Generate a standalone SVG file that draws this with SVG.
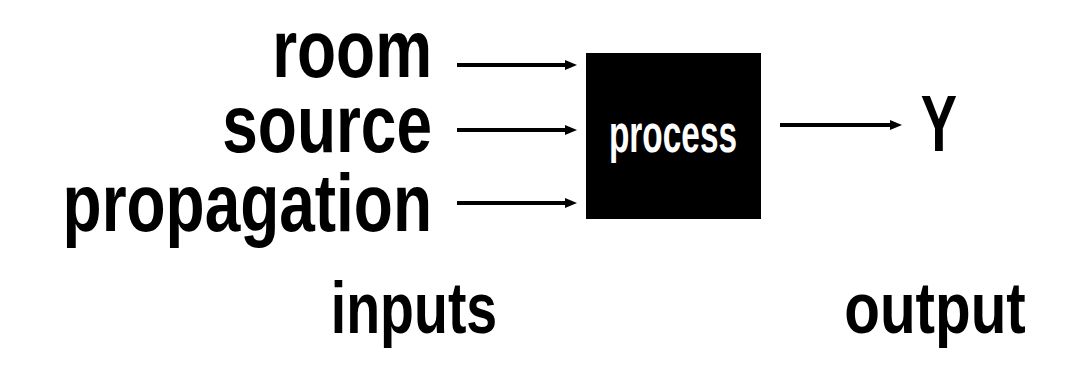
<svg xmlns="http://www.w3.org/2000/svg" width="1068" height="370" viewBox="0 0 1068 370">
  <style>
    .lbl { font-family: "Liberation Sans", Arial, sans-serif; font-weight: bold; fill: #000; }
    .in { font-size: 82px; text-anchor: end; }
    .cond { font-size: 73px; text-anchor: middle; }
    .proc { font-size: 53px; text-anchor: middle; fill: #fff; }
    .wire { stroke: #000; stroke-width: 4; fill: none; marker-end: url(#head); }
  </style>
  <defs>
    <marker id="head" markerUnits="userSpaceOnUse" markerWidth="12" markerHeight="10" refX="2" refY="5" orient="auto">
      <path d="M0,0 L12,5 L0,10 Z" fill="#000"/>
    </marker>
  </defs>
  <rect width="1068" height="370" fill="#fff"/>

  <!-- input labels, right-aligned against the arrows -->
  <g id="room"><text class="lbl in" transform="translate(432,77) scale(0.78,1)">room</text></g>
  <g id="source"><text class="lbl in" transform="translate(432,152) scale(0.78,1)">source</text></g>
  <g id="propagation"><text class="lbl in" transform="translate(432,231) scale(0.78,1)">propagation</text></g>

  <!-- central block -->
  <g id="process">
    <rect x="586" y="53" width="175" height="166" fill="#000"/>
    <text class="lbl proc" transform="translate(673,152) scale(0.63,1)">process</text>
  </g>

  <!-- output symbol -->
  <g id="Y"><text class="lbl" style="font-size:80px;text-anchor:middle" transform="translate(939,151) scale(0.68,1)">Y</text></g>

  <!-- captions -->
  <g id="inputs"><text class="lbl cond" transform="translate(414,333) scale(0.76,1)">inputs</text></g>
  <g id="output"><text class="lbl cond" transform="translate(935,333) scale(0.8,1)">output</text></g>

  <!-- connectors -->
  <g id="connectors">
    <line class="wire" x1="457" y1="65" x2="567" y2="65"/>
    <line class="wire" x1="457" y1="130" x2="567" y2="130"/>
    <line class="wire" x1="457" y1="203" x2="567" y2="203"/>
    <line class="wire" x1="780" y1="125" x2="892" y2="125"/>
  </g>
</svg>
